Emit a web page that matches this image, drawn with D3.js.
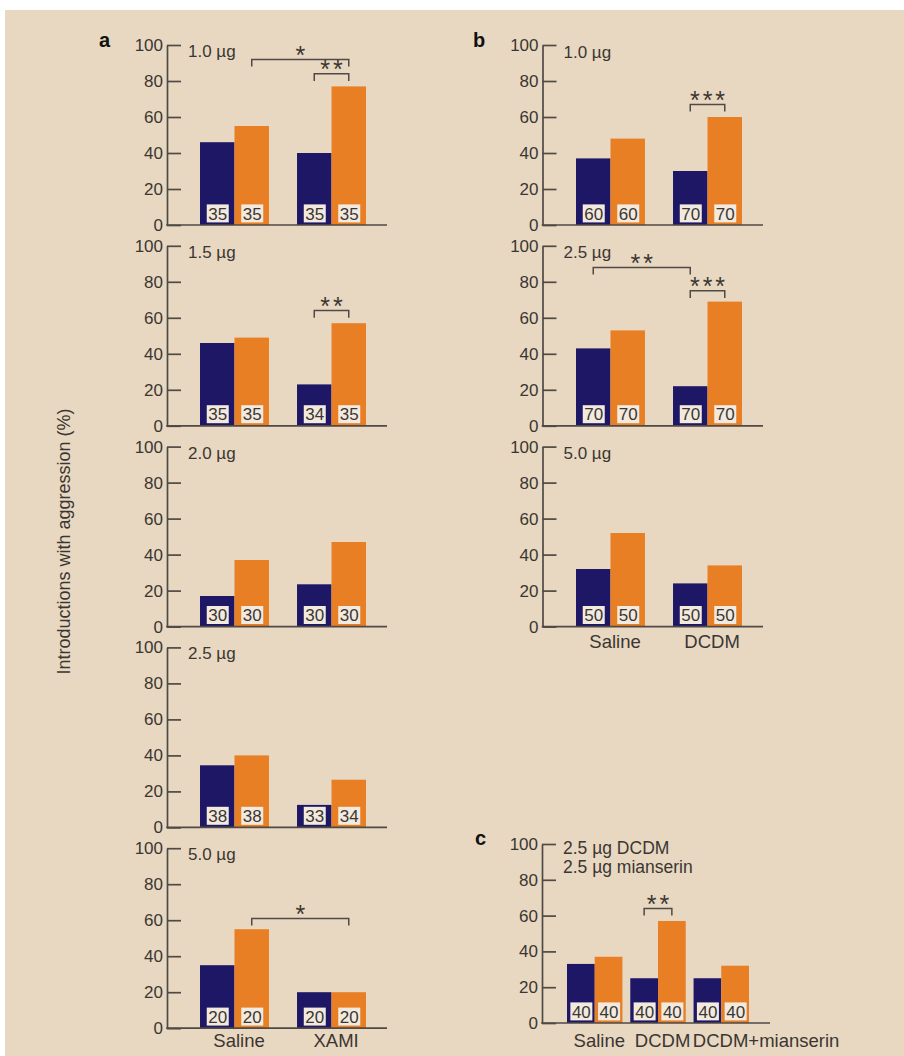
<!DOCTYPE html>
<html>
<head>
<meta charset="utf-8">
<script src="https://cdn.jsdelivr.net/npm/d3@7/dist/d3.min.js"></script>
<style>
  html, body { margin: 0; padding: 0; background: #ffffff; }
  svg { display: block; font-family: "Liberation Sans", Arial, Helvetica, sans-serif; }
</style>
</head>
<body>
<svg id="chart" width="904" height="1056"></svg>
<script>
// ---- data --------------------------------------------------------------
// Panel a: XAMI doses
const doseA = ['1.0 µg', '1.5 µg', '2.0 µg', '2.5 µg', '5.0 µg'];
const groupsA = ['Saline', 'XAMI'];
const navyA = [[46, 40], [46, 23], [17, 23.5], [34.5, 12.5], [35, 20]];
const orangeA = [[55, 77], [49, 57], [37, 47], [40, 26.5], [55, 20]];
const nNavyA = [[35, 35], [35, 34], [30, 30], [38, 33], [20, 20]];
const nOrangeA = [[35, 35], [35, 35], [30, 30], [38, 34], [20, 20]];

// Panel b: DCDM doses
const doseB = ['1.0 µg', '2.5 µg', '5.0 µg'];
const groupsB = ['Saline', 'DCDM'];
const navyB = [[37, 30], [43, 22], [32, 24]];
const orangeB = [[48, 60], [53, 69], [52, 34]];
const nNavyB = [[60, 70], [70, 70], [50, 50]];
const nOrangeB = [[60, 70], [70, 70], [50, 50]];

// Panel c: DCDM with mianserin
const titleC = ['2.5 µg DCDM', '2.5 µg mianserin'];
const groupsC = ['Saline', 'DCDM', 'DCDM+mianserin'];
const navyC = [33, 25, 25];
const orangeC = [37, 57, 32];
const nNavyC = [40, 40, 40];
const nOrangeC = [40, 40, 40];

// Significance brackets: endpoints are [group, series]; level is in % units
const sigA = [
  { panel: 0, from: ['Saline', 'orange'], to: ['XAMI', 'orange'], level: 92, label: '*' },
  { panel: 0, from: ['XAMI', 'navy'], to: ['XAMI', 'orange'], level: 84, label: '**' },
  { panel: 1, from: ['XAMI', 'navy'], to: ['XAMI', 'orange'], level: 64, label: '**' },
  { panel: 4, from: ['Saline', 'orange'], to: ['XAMI', 'orange'], level: 61, label: '*' }
];
const sigB = [
  { panel: 0, from: ['DCDM', 'navy'], to: ['DCDM', 'orange'], level: 67, label: '***' },
  { panel: 1, from: ['Saline', 'navy'], to: ['DCDM', 'navy'], level: 88, label: '**' },
  { panel: 1, from: ['DCDM', 'navy'], to: ['DCDM', 'orange'], level: 75, label: '***' }
];
const sigC = [
  { panel: 0, from: ['DCDM', 'navy'], to: ['DCDM', 'orange'], level: 64, label: '**' }
];

const yTicks = [0, 20, 40, 60, 80, 100];
const yTitle = 'Introductions with aggression (%)';

// ---- styling -----------------------------------------------------------
const C = {
  bg: '#e8d8c1',
  navy: '#1d1766',
  orange: '#e97f24',
  box: '#f2eadf',
  text: '#3b3632',
  axis: '#4f4a45'
};

const svg = d3.select('#chart');
svg.append('rect').attr('x', 5).attr('y', 10).attr('width', 899).attr('height', 1046).attr('fill', C.bg);

function drawPanel(opt) {
  const g = svg.append('g');
  const y = d3.scaleLinear().domain([0, 100]).range([opt.base, opt.base - opt.height]);
  const x0 = d3.scaleBand().domain(opt.groups).range(opt.range).paddingInner(opt.padInner).paddingOuter(0);
  const x1 = d3.scaleBand().domain(['navy', 'orange']).range([0, x0.bandwidth()]);

  // y axis with inward ticks
  const ax = g.append('g')
    .attr('transform', `translate(${opt.axisX},0)`)
    .call(d3.axisLeft(y).tickValues(yTicks).tickSizeInner(-14).tickSizeOuter(0).tickPadding(4));
  ax.select('.domain').attr('stroke', C.axis).attr('stroke-width', 1.7);
  ax.selectAll('.tick line').attr('stroke', C.axis).attr('stroke-width', 1.7);
  ax.selectAll('.tick text').attr('fill', C.text).attr('font-size', 17).attr('font-family', null);

  // bars
  const rows = opt.groups.flatMap((grp, i) => [
    { grp, key: 'navy', v: opt.navy[i], n: opt.nNavy[i] },
    { grp, key: 'orange', v: opt.orange[i], n: opt.nOrange[i] }
  ]);
  g.selectAll('rect.bar').data(rows).join('rect')
    .attr('class', 'bar')
    .attr('x', d => x0(d.grp) + x1(d.key))
    .attr('width', x1.bandwidth())
    .attr('y', d => y(d.v))
    .attr('height', d => y(0) - y(d.v))
    .attr('fill', d => C[d.key]);

  // baseline
  g.append('line')
    .attr('x1', opt.axisX - 0.8).attr('x2', opt.range[1] + 21)
    .attr('y1', y(0)).attr('y2', y(0))
    .attr('stroke', C.axis).attr('stroke-width', 1.7);

  // sample-size boxes
  const bw = 22, bh = 18;
  const cx = d => x0(d.grp) + x1(d.key) + x1.bandwidth() / 2 + 0.5;
  g.selectAll('rect.nbox').data(rows).join('rect')
    .attr('class', 'nbox')
    .attr('x', d => cx(d) - bw / 2)
    .attr('y', y(0) - 2.6 - bh)
    .attr('width', bw).attr('height', bh)
    .attr('fill', C.box);
  g.selectAll('text.ntext').data(rows).join('text')
    .attr('class', 'ntext')
    .attr('x', d => cx(d))
    .attr('y', y(0) - 5.4)
    .attr('text-anchor', 'middle')
    .attr('font-size', 17)
    .attr('fill', C.text)
    .text(d => d.n);

  // dose title
  opt.title.forEach((t, i) => {
    g.append('text')
      .attr('x', opt.axisX + 21)
      .attr('y', y(100) + opt.titleDy + i * 19)
      .attr('font-size', opt.titleSize)
      .attr('fill', C.text)
      .text(t);
  });

  // significance brackets
  const px = e => x0(e[0]) + x1(e[1]) + x1.bandwidth() / 2;
  opt.sigs.forEach(s => {
    const xa = px(s.from), xb = px(s.to), yl = y(s.level), yd = y(s.level - 4);
    g.append('path')
      .attr('d', `M${xa},${yd}V${yl}H${xb}V${yd}`)
      .attr('fill', 'none')
      .attr('stroke', C.axis)
      .attr('stroke-width', 1.5);
    const ls = 3;
    g.append('text')
      .attr('x', (xa + xb) / 2 + (s.label.length > 1 ? ls / 2 : 0))
      .attr('y', yl + 4.5)
      .attr('text-anchor', 'middle')
      .attr('font-size', 25)
      .attr('letter-spacing', s.label.length > 1 ? ls : 0)
      .attr('fill', C.text)
      .text(s.label);
  });

  // category labels
  if (opt.showCats) {
    opt.groups.forEach((grp, i) => {
      const last = opt.startLast && i === opt.groups.length - 1;
      g.append('text')
        .attr('x', last ? x0(grp) - 0.7 : x0(grp) + x0.bandwidth() / 2 + 4.6)
        .attr('y', y(0) + opt.catDy)
        .attr('text-anchor', last ? 'start' : 'middle')
        .attr('font-size', 18.5)
        .attr('fill', C.text)
        .text(grp);
    });
  }
}

// ---- panel a ------------------------------------------------------------
const stepA = 200.8;
doseA.forEach((dose, i) => {
  drawPanel({
    axisX: 167, base: 225 + i * stepA, height: 180,
    range: [200, 366], padInner: 0.289,
    groups: groupsA,
    navy: navyA[i], orange: orangeA[i], nNavy: nNavyA[i], nOrange: nOrangeA[i],
    title: [dose], titleSize: 17, titleDy: 12,
    sigs: sigA.filter(s => s.panel === i),
    showCats: i === doseA.length - 1, catDy: 18.5
  });
});

// ---- panel b ------------------------------------------------------------
doseB.forEach((dose, i) => {
  drawPanel({
    axisX: 542.5, base: 225 + i * stepA, height: 180,
    range: [576, 742], padInner: 0.289,
    groups: groupsB,
    navy: navyB[i], orange: orangeB[i], nNavy: nNavyB[i], nOrange: nOrangeB[i],
    title: [dose], titleSize: 17, titleDy: 12.5,
    sigs: sigB.filter(s => s.panel === i),
    showCats: i === doseB.length - 1, catDy: 21
  });
});

// ---- panel c ------------------------------------------------------------
drawPanel({
  axisX: 542, base: 1023, height: 179,
  range: [567, 749], padInner: 0.124,
  groups: groupsC,
  navy: navyC, orange: orangeC, nNavy: nNavyC, nOrange: nOrangeC,
  title: titleC, titleSize: 17.5, titleDy: 9.5,
  sigs: sigC,
  showCats: true, catDy: 23.5, startLast: true
});

// ---- panel letters and shared y title ----------------------------------
[['a', 99, 47.3], ['b', 473, 47.3], ['c', 475, 845]].forEach(([t, x, yy]) => {
  svg.append('text')
    .attr('x', x).attr('y', yy)
    .attr('font-size', 20).attr('font-weight', 900)
    .attr('fill', '#111')
    .text(t);
});

svg.append('text')
  .attr('transform', 'translate(70,541.5) rotate(-90)')
  .attr('text-anchor', 'middle')
  .attr('font-size', 18)
  .attr('fill', C.text)
  .text(yTitle);
</script>
</body>
</html>
